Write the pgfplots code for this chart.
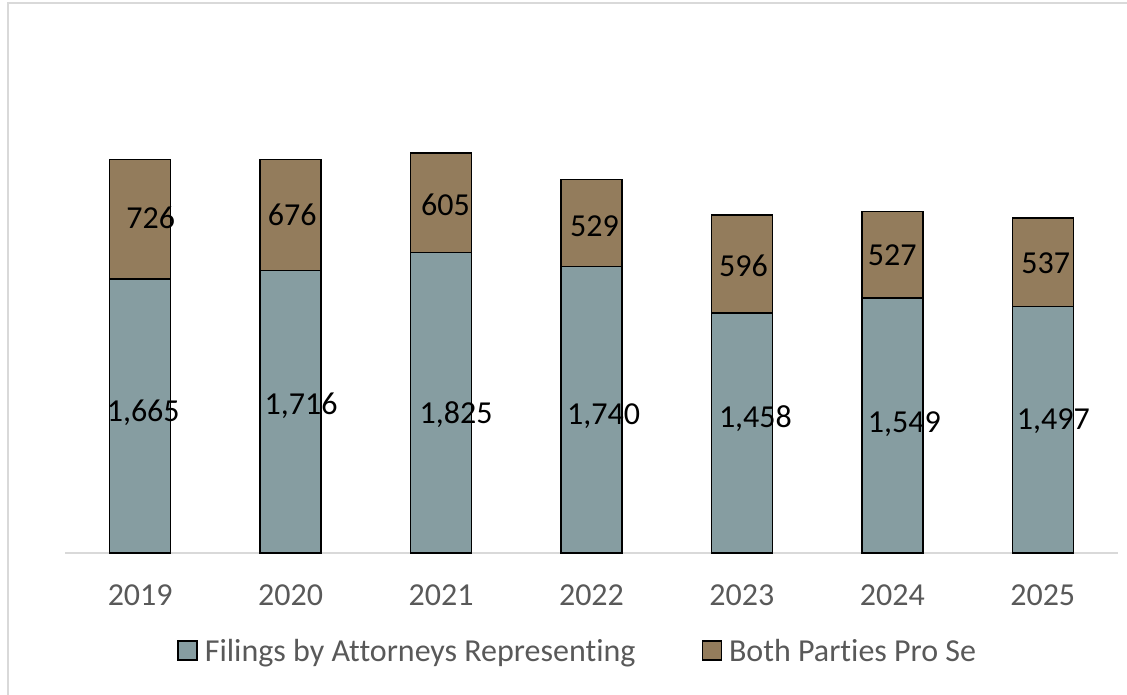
\documentclass[border=0pt]{standalone}
\usepackage{pgfplots}
\pgfplotsset{compat=1.18}
\usepackage{pgfplotstable}
\usepackage{fontspec}
\setmainfont{Carlito}[Ligatures=NoCommon]
\definecolor{barblue}{HTML}{869DA1}
\definecolor{barbrown}{HTML}{937C5C}
\definecolor{txtgray}{HTML}{595959}
\definecolor{axgray}{HTML}{D9D9D9}

\pgfplotstableread{
x att prose
0 1665 726
1 1716 676
2 1825 605
3 1740 529
4 1458 596
5 1549 527
6 1497 537
}\data

\pgfplotstableread{
x y lab
0.02 850 1,665
1.07 893 1,716
2.10 838 1,825
3.08 832 1,740
4.09 814 1,458
5.08 784 1,549
6.07 802 1,497
0.07 2035 726
1.01 2053 676
2.03 2114 605
3.02 1987 529
4.01 1744 596
5.00 1810 527
6.02 1762 537
}\labels

\begin{document}
\begin{tikzpicture}
\useasboundingbox (0,0) rectangle (1127pt,694pt);
\draw[axgray, line width=1.5pt] (8pt,-5pt) -- (8pt,691pt) -- (1135pt,691pt);
\begin{axis}[
  at={(65pt,141pt)}, anchor=south west,
  scale only axis, width=1053pt, height=493.8pt,
  xmin=-0.5, xmax=6.5, ymin=0, ymax=3000,
  ybar stacked, bar width=61pt,
  axis y line=none, axis x line=bottom,
  x axis line style={axgray, line width=1.5pt, -},
  xtick={0,...,6},
  xticklabels={2019,2020,2021,2022,2023,2024,2025},
  major tick length=0pt,
  xticklabel style={anchor=base, yshift=-52pt, font=\fontsize{32}{38}\selectfont, text=txtgray},
  legend columns=2,
  legend style={draw=none, fill=none, at={(0.486,-0.1985)}, anchor=center,
    font=\fontsize{32}{38}\selectfont, text=txtgray,
    nodes={inner sep=0pt},
    /tikz/every odd column/.append style={column sep=7pt},
    /tikz/every even column/.append style={column sep=66pt}},
  legend image code/.code={\draw[#1, line width=1.5pt] (0pt,-8.9pt) rectangle (19pt,10.1pt);},
]
\addplot[fill=barblue, draw=black, line width=1.5pt] table[x=x, y=att]{\data};
\addlegendentry{Filings by Attorneys Representing}
\addplot[fill=barbrown, draw=black, line width=1.5pt] table[x=x, y=prose]{\data};
\addlegendentry{Both Parties Pro Se}
\end{axis}
\begin{axis}[
  at={(65pt,141pt)}, anchor=south west,
  scale only axis, width=1053pt, height=493.8pt,
  xmin=-0.5, xmax=6.5, ymin=0, ymax=3000,
  hide axis, clip=false,
]
\addplot[draw=none, mark=none, nodes near coords, point meta=explicit symbolic,
  every node near coord/.append style={anchor=center, font=\fontsize{32}{38}\selectfont, text=black}]
  table[x=x, y=y, meta=lab]{\labels};
\end{axis}
\end{tikzpicture}
\end{document}
